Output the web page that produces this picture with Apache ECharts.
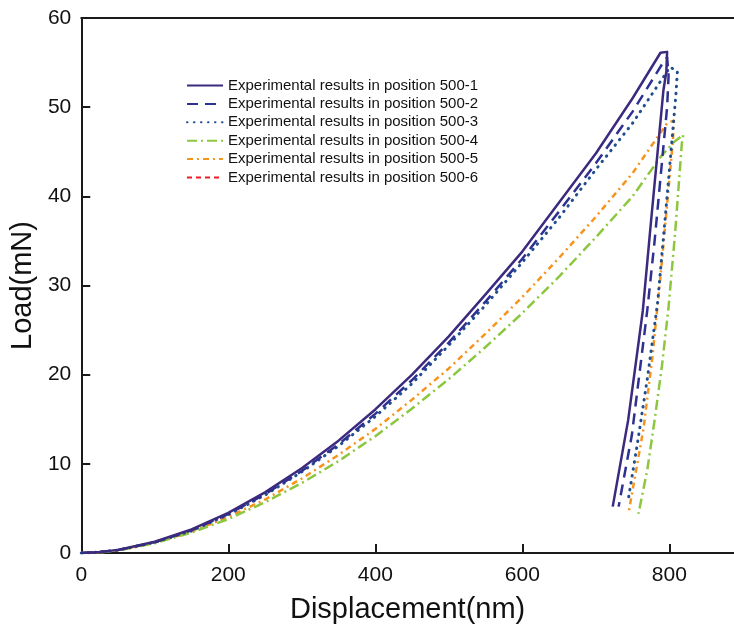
<!DOCTYPE html>
<html><head><meta charset="utf-8">
<script src="https://cdn.jsdelivr.net/npm/echarts@6/dist/echarts.min.js"></script>
<style>html,body{margin:0;padding:0;background:#fff}#c{width:734px;height:634px}</style>
</head><body><div id="c"></div><script>
// [displacement nm, load mN] pairs (loading then unloading)
const pos500_1 = [[0,0],[25,0.1],[50,0.35],[100,1.26],[150,2.65],[200,4.5],[250,6.8],[300,9.5],[350,12.6],[400,16.1],[450,20.0],[500,24.3],[550,29.0],[600,33.8],[650,39.3],[700,44.8],[750,51.0],[788,56.1],[797,56.2],[796,54.0],[792,51.9],[774,36.2],[764,27.2],[744,14.9],[723,5.2]];
const pos500_2 = [[0,0],[25,0.1],[50,0.33],[100,1.2],[150,2.55],[200,4.35],[250,6.6],[300,9.2],[350,12.2],[400,15.6],[450,19.4],[500,23.6],[550,28.2],[600,33.0],[650,38.3],[700,43.7],[750,49.5],[790,54.8],[797,55.6],[799,53.5],[797,50.0],[780,35.0],[770,27.2],[749,13.2],[731,5.2]];
const pos500_3 = [[0,0],[25,0.1],[50,0.32],[100,1.2],[150,2.5],[200,4.3],[250,6.5],[300,9.1],[350,12.0],[400,15.3],[450,19.0],[500,23.3],[550,27.8],[600,32.6],[650,37.6],[700,43.0],[750,48.2],[801,54.5],[811,54.0],[809,51.4],[797,40.0],[784,28.0],[770,19.5],[757,12.5],[744,5.9]];
const pos500_4 = [[0,0],[25,0.08],[50,0.28],[100,1.1],[150,2.3],[200,3.8],[250,5.7],[300,7.85],[350,10.3],[400,13.1],[450,16.2],[500,19.5],[550,23.1],[600,26.9],[650,31.0],[700,35.4],[750,40.0],[788,44.4],[805,46.0],[819,46.9],[817,45.9],[808,36.0],[799,27.6],[790,21.0],[780,14.9],[770,9.3],[758,4.4]];
const pos500_5 = [[0,0],[25,0.08],[50,0.3],[100,1.15],[150,2.4],[200,4.05],[250,6.0],[300,8.35],[350,11.0],[400,13.9],[450,17.2],[500,20.7],[550,24.6],[600,28.7],[650,33.1],[700,37.7],[750,42.6],[797,48.2],[806,48.5],[805,46.3],[798,40.0],[788,31.0],[777,22.0],[765,14.0],[754,8.9],[745,4.7]];
const pos500_6 = [];
const seriesNames = ['Experimental results in position 500-1','Experimental results in position 500-2','Experimental results in position 500-3','Experimental results in position 500-4','Experimental results in position 500-5','Experimental results in position 500-6'];
const xTicks = [0,200,400,600,800];
const yTicks = [0,10,20,30,40,50,60];

const FONT = '"Liberation Sans", Arial, Helvetica, sans-serif';
const styles = [
  {color:'#3b2a7d', type:'solid', cap:'butt', width:2.5},
  {color:'#2e3192', type:[11,7], cap:'butt', width:2.5},
  {color:'#1f4f8f', type:[0.5,6.5], cap:'round', width:3},
  {color:'#8dc63f', type:[10,4,2,4], cap:'butt', width:2.5},
  {color:'#f7941d', type:[6,4,2,4], cap:'butt', width:2.5},
  {color:'#ed1c24', type:[5,4], cap:'butt', width:2.5}
];
const datas = [pos500_1,pos500_2,pos500_3,pos500_4,pos500_5,pos500_6];
const series = datas.map((d,i)=>({
  name: seriesNames[i], type:'line', data:d, symbol:'none', smooth:false,
  xAxisIndex:0, yAxisIndex:0,
  color: styles[i].color,
  lineStyle:{color:styles[i].color, width:styles[i].width, type:styles[i].type, cap:styles[i].cap, join:'round'},
  z: 10 - i
}));

const chart = echarts.init(document.getElementById('c'), null, {renderer:'canvas'});
chart.setOption({
  animation:false,
  backgroundColor:'#fff',
  grid:{left:80, top:18, right:0, bottom:81, containLabel:false},
  legend:{
    orient:'vertical', left:186, top:78, padding:0,
    itemWidth:36, itemHeight:14, itemGap:3.4,
    itemStyle:{opacity:0},
    textStyle:{fontFamily:FONT, fontSize:15, color:'#111'},
    data: seriesNames
  },
  xAxis:[{
    type:'value', min:0, max:888, interval:200, position:'bottom',
    name:'Displacement(nm)', nameLocation:'middle', nameGap:42,
    nameTextStyle:{fontFamily:FONT, fontSize:29, color:'#111'},
    axisLine:{show:true, lineStyle:{color:'#1a1a1a', width:2}},
    axisTick:{show:true, inside:true, length:9, lineStyle:{color:'#1a1a1a', width:2}},
    axisLabel:{fontFamily:FONT, fontSize:21, color:'#111', margin:12, showMaxLabel:false,
      formatter: v => xTicks.includes(v) ? String(v) : ''},
    splitLine:{show:false}
  },{
    type:'value', min:0, max:888, position:'top',
    axisLine:{show:true, lineStyle:{color:'#1a1a1a', width:2}},
    axisTick:{show:false}, axisLabel:{show:false}, splitLine:{show:false}
  }],
  yAxis:[{
    type:'value', min:0, max:60, interval:10,
    name:'Load(mN)', nameLocation:'middle', nameGap:37, nameRotate:90,
    nameTextStyle:{fontFamily:FONT, fontSize:29, color:'#111'},
    axisLine:{show:true, lineStyle:{color:'#1a1a1a', width:2}},
    axisTick:{show:true, inside:true, length:9, lineStyle:{color:'#1a1a1a', width:2}},
    axisLabel:{fontFamily:FONT, fontSize:21, color:'#111', margin:10,
      formatter: v => yTicks.includes(v) ? String(v) : ''},
    splitLine:{show:false}
  }],
  series: series
});
</script></body></html>
